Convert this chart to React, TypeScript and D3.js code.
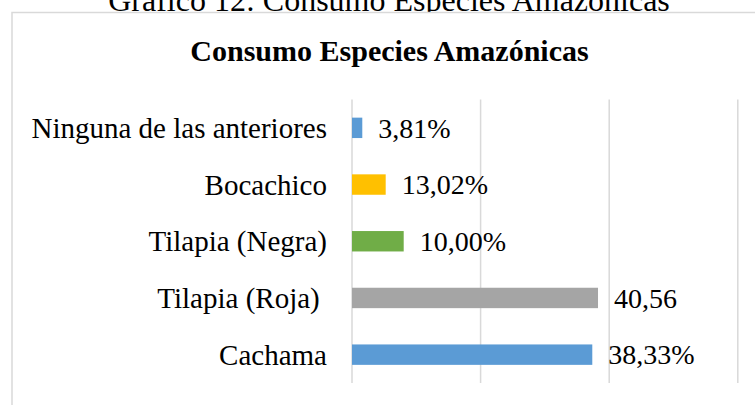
import * as d3 from "d3";

// categories from top to bottom, as drawn
const categories = [
  "Ninguna de las anteriores",
  "Bocachico",
  "Tilapia (Negra)",
  "Tilapia (Roja) ",
  "Cachama",
];
// bar lengths (axis units)
const values = [1.6, 5.24, 8.04, 38.26, 37.37];
// labels printed next to the bars
const valueLabels = ["3,81%", "13,02%", "10,00%", "40,56", "38,33%"];
const barColors = ["#5B9BD5", "#FFC000", "#70AD47", "#A5A5A5", "#5B9BD5"];
const gridTicks = [0, 20, 40, 60];

const caption = "Gráfico 12: Consumo Especies Amazónicas";
const title = "Consumo Especies Amazónicas";

export default function App() {
  const width = 755;
  const height = 405;
  const plot = { left: 352, right: 737.8, top: 99.5, bottom: 383 };

  const x = d3.scaleLinear().domain([0, 60]).range([plot.left, plot.right]);
  const y = d3
    .scaleBand()
    .domain(categories)
    .range([plot.top, plot.bottom])
    .paddingInner(0.64)
    .paddingOuter(0.32);

  const serif = "'Liberation Serif', 'Times New Roman', serif";

  return (
    <div style={{ position: "fixed", left: 0, top: 0 }}>
      <svg width={width} height={height} style={{ display: "block", background: "#fff" }}>
        <text
          x={389}
          y={11}
          textAnchor="middle"
          fontFamily={serif}
          fontSize={32}
          fill="#000"
        >
          {caption}
        </text>
        <rect
          x={12}
          y={12.5}
          width={width + 20}
          height={height + 20}
          fill="#fff"
          stroke="#d9d9d9"
          strokeWidth={1.5}
        />
        <text
          x={389.5}
          y={61}
          textAnchor="middle"
          fontFamily={serif}
          fontWeight="bold"
          fontSize={30}
          fill="#000"
        >
          {title}
        </text>
        <g>
          {gridTicks.map((t) => (
            <line
              key={t}
              x1={x(t)}
              x2={x(t)}
              y1={plot.top}
              y2={plot.bottom}
              stroke="#d9d9d9"
              strokeWidth={1.5}
            />
          ))}
        </g>
        <g>
          {categories.map((c, i) => {
            const yc = (y(c) ?? 0) + y.bandwidth() / 2;
            return (
              <g key={c}>
                <rect
                  x={x(0)}
                  y={y(c)}
                  width={x(values[i]) - x(0)}
                  height={y.bandwidth()}
                  fill={barColors[i]}
                />
                <text
                  x={plot.left - 25}
                  y={yc}
                  dy="0.35em"
                  textAnchor="end"
                  fontFamily={serif}
                  fontSize={29}
                  fill="#000"
                  style={{ whiteSpace: "pre" }}
                >
                  {c}
                </text>
                <text
                  x={x(values[i]) + 16}
                  y={yc}
                  dy="0.35em"
                  fontFamily={serif}
                  fontSize={28}
                  fill="#000"
                >
                  {valueLabels[i]}
                </text>
              </g>
            );
          })}
        </g>
      </svg>
    </div>
  );
}
